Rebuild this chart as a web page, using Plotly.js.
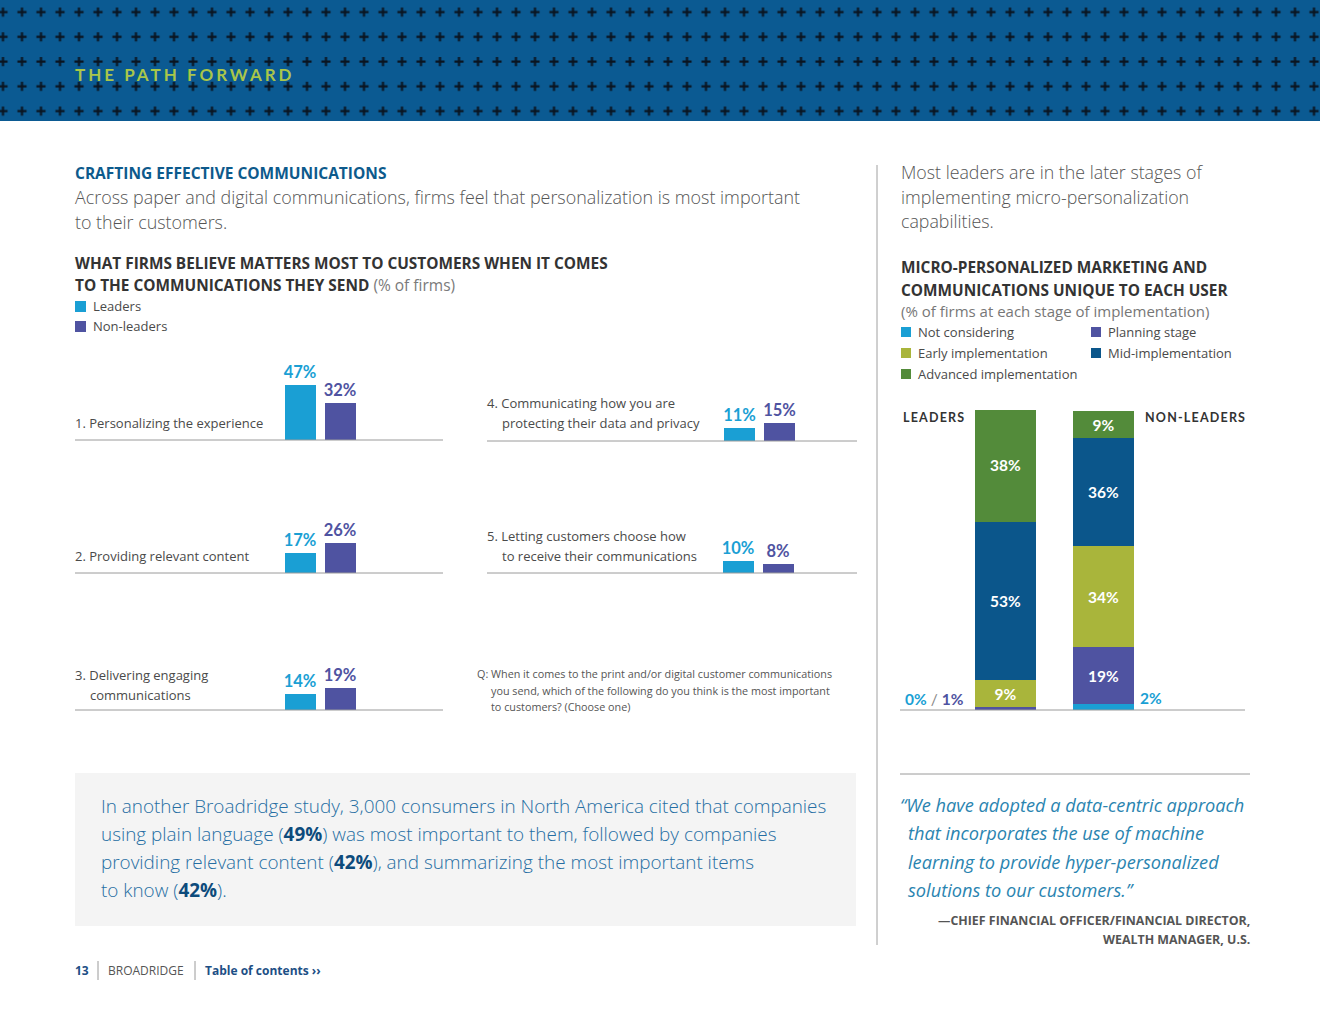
<!DOCTYPE html>
<html><head><meta charset="utf-8">
<script src="https://cdn.plot.ly/plotly-3.0.1.min.js"></script>
<style>html,body{margin:0;padding:0;background:#fff;}#chart{width:1320px;height:1020px;}</style>
</head><body><div id="chart"></div>
<script>
// ---------------- DATA ----------------
const groups = ['Leaders', 'Non-leaders'];
const commLabelLines = [
  ['1. Personalizing the experience'],
  ['2. Providing relevant content'],
  ['3. Delivering engaging', 'communications'],
  ['4. Communicating how you are', 'protecting their data and privacy'],
  ['5. Letting customers choose how', 'to receive their communications']
];
const commLeaders = [47, 17, 14, 11, 10];
const commNonLeaders = [32, 26, 19, 15, 8];

const stages = ['Not considering', 'Planning stage', 'Early implementation', 'Mid-implementation', 'Advanced implementation'];
const stageLeaders = [0, 1, 9, 53, 38];
const stageNonLeaders = [2, 19, 34, 36, 9];

// ---------------- STYLE ----------------
const W = 1320, H = 1020;
const X = p => p / W, Y = p => 1 - p / H;
const FONT = "'Open Sans', 'Noto Sans', sans-serif";
const COND = "'Open Sans', 'Noto Sans', sans-serif";
const NUMF = "Lato, 'Open Sans', sans-serif";
const C = {leaders: '#1a9fd4', non: '#4f53a1', header: '#0b5a92', lime: '#a9c64a', navy: '#0d5a8c'};
const stageColors = ['#1a9fd4', '#4f53a1', '#a9b53b', '#0b568b', '#538b3a'];

const slots = [
  {x0: 280, base: 440, lx: 75, lys: [423], b0: 75, b1: 443},
  {x0: 280, base: 573, lx: 75, lys: [556], b0: 75, b1: 443},
  {x0: 280, base: 710, lx: 75, lys: [675, 695], b0: 75, b1: 443},
  {x0: 719.5, base: 441, lx: 487, lys: [403, 423], b0: 487, b1: 857},
  {x0: 718, base: 573, lx: 487, lys: [536, 556], b0: 487, b1: 857}
];
const PX_PER_PCT = 1.17;

const traces = [];
const layout = {
  width: W, height: H, margin: {l: 0, r: 0, t: 0, b: 0},
  paper_bgcolor: '#fff', plot_bgcolor: 'rgba(0,0,0,0)',
  barmode: 'stack', showlegend: false, hovermode: false,
  font: {family: FONT}
};
const shapes = [];
const A = [];

function txt(t, x, y, o = {}) {
  A.push({text: t, x: X(x), y: Y(y), xref: 'paper', yref: 'paper',
    xanchor: o.anchor || 'left', yanchor: 'middle', showarrow: false,
    borderpad: 0, borderwidth: 0,
    align: o.anchor === 'right' ? 'right' : 'left',
    font: {family: o.family || FONT, size: o.size || 13, color: o.color || '#444',
      weight: o.weight || 400, style: o.style || 'normal'}});
}
function rect(x0, y0, x1, y1, color, layer) {
  shapes.push({type: 'rect', xref: 'paper', yref: 'paper', x0: X(x0), x1: X(x1), y0: Y(y1), y1: Y(y0),
    fillcolor: color, line: {width: 0}, layer: layer || 'above'});
}
function line(x0, y0, x1, y1, color, w) {
  shapes.push({type: 'line', xref: 'paper', yref: 'paper', x0: X(x0), x1: X(x1), y0: Y(y0), y1: Y(y1),
    line: {color: color || '#9a9a9a', width: w || 1}, layer: 'above'});
}

// ---------------- HEADER ----------------
rect(0, 0, 1320, 121, C.header, 'below');
const pat = "<svg xmlns='http://www.w3.org/2000/svg' width='1320' height='121'>" +
  "<defs><pattern id='p' width='19' height='24.75' patternUnits='userSpaceOnUse' x='-6.5' y='-0.4'>" +
  "<path d='M9.5 7.8v9.2M4.9 12.4h9.2' stroke='#0a1420' stroke-width='2.2'/></pattern></defs>" +
  "<rect width='1320' height='121' fill='" + C.header + "'/><rect width='1320' height='121' fill='url(#p)'/></svg>";
layout.images = [{source: 'data:image/svg+xml;charset=utf-8,' + encodeURIComponent(pat),
  xref: 'paper', yref: 'paper', x: 0, y: 1, sizex: 1, sizey: 121 / H, sizing: 'stretch',
  xanchor: 'left', yanchor: 'top', layer: 'above'}];
txt("<span style='letter-spacing:3px'>THE PATH FORWARD</span>", 75, 75, {size: 17, color: C.lime, weight: 700, family: NUMF});

// ---------------- LEFT SMALL BAR CHARTS ----------------
slots.forEach((s, i) => {
  const suf = i === 0 ? '' : String(i + 1);
  traces.push({
    type: 'bar', x: groups, y: [commLeaders[i], commNonLeaders[i]],
    xaxis: 'x' + suf, yaxis: 'y' + suf, width: 0.775,
    marker: {color: [C.leaders, C.non], line: {width: 0}},
    texttemplate: '%{y}%', textposition: 'outside', cliponaxis: false, constraintext: 'none',
    textfont: {family: NUMF, size: 16.5, weight: 700, color: [C.leaders, C.non]},
    hoverinfo: 'skip'
  });
  layout['xaxis' + suf] = {domain: [X(s.x0), X(s.x0 + 80)], range: [-0.5, 1.5], type: 'category',
    categoryarray: groups, visible: false, fixedrange: true, anchor: 'y' + suf};
  layout['yaxis' + suf] = {domain: [Y(s.base), Y(s.base - 80)], range: [0, 80 / PX_PER_PCT],
    visible: false, fixedrange: true, anchor: 'x' + suf};
  line(s.b0, s.base, s.b1, s.base, '#9a9a9a', 1);
  commLabelLines[i].forEach((t, k) => txt(t, s.lx + (k > 0 ? 15 : 0), s.lys[k], {size: 13, color: '#4a4a4a'}));
});

// ---------------- STACKED BAR ----------------
stages.forEach((st, k) => {
  const vals = [stageLeaders[k], stageNonLeaders[k]];
  traces.push({
    type: 'bar', name: st, x: groups, y: vals, xaxis: 'x6', yaxis: 'y6', width: 0.622,
    marker: {color: stageColors[k], line: {width: 0}},
    text: vals.map(v => v >= 5 ? v + '%' : ''), textposition: 'inside', insidetextanchor: 'middle',
    textangle: 0, constraintext: 'none',
    textfont: {family: NUMF, size: 15.5, weight: 700, color: '#ffffff'}, hoverinfo: 'skip'
  });
});
layout.xaxis6 = {domain: [X(956.5), X(1152.5)], range: [-0.5, 1.5], type: 'category', categoryarray: groups,
  visible: false, fixedrange: true, anchor: 'y6'};
layout.yaxis6 = {domain: [Y(710), Y(410)], range: [0, 100.5], visible: false, fixedrange: true, anchor: 'x6'};
line(900, 710, 1245, 710, '#9a9a9a', 1);

// ---------------- SHAPES ----------------
rect(75, 773, 856, 926, '#f4f4f4', 'below');
line(877, 165, 877, 945, '#a0a0a0', 1);
line(900, 774, 1250, 774, '#9a9a9a', 1);
line(98, 961, 98, 980, '#9a9a9a', 1);
line(195, 961, 195, 980, '#9a9a9a', 1);
rect(75, 301, 86, 312, C.leaders);
rect(75, 321, 86, 332, C.non);

// ---------------- LEFT TEXT ----------------
txt('CRAFTING EFFECTIVE COMMUNICATIONS', 75, 173, {size: 15.5, weight: 700, color: C.navy});
txt('Across paper and digital communications, firms feel that personalization is most important', 75, 197, {size: 17.9, weight: 300, color: '#555'});
txt('to their customers.', 75, 222, {size: 17.9, weight: 300, color: '#555'});
txt('WHAT FIRMS BELIEVE MATTERS MOST TO CUSTOMERS WHEN IT COMES', 75, 263, {size: 15.4, weight: 700, color: '#333'});
txt("<b>TO THE COMMUNICATIONS THEY SEND</b> <span style='color:#7a7a7a;font-size:15.5px'>(% of firms)</span>", 75, 285, {size: 15.4, weight: 400, color: '#333'});
txt(groups[0], 93, 306, {size: 13, color: '#4a4a4a'});
txt(groups[1], 93, 326, {size: 13, color: '#4a4a4a'});
txt('Q: When it comes to the print and/or digital customer communications', 477, 673, {size: 10.8, color: '#555'});
txt('you send, which of the following do you think is the most important', 491, 690, {size: 10.8, color: '#555'});
txt('to customers? (Choose one)', 491, 706, {size: 10.8, color: '#555'});

// ---------------- RIGHT TEXT ----------------
txt('Most leaders are in the later stages of', 901, 172, {size: 17.8, weight: 300, color: '#555'});
txt('implementing micro-personalization', 901, 197, {size: 17.8, weight: 300, color: '#555'});
txt('capabilities.', 901, 221, {size: 17.8, weight: 300, color: '#555'});
txt('MICRO-PERSONALIZED MARKETING AND', 901, 268, {size: 15.4, weight: 700, color: '#333'});
txt('COMMUNICATIONS UNIQUE TO EACH USER', 901, 290, {size: 15.4, weight: 700, color: '#333'});
txt('(% of firms at each stage of implementation)', 901, 311, {size: 15, color: '#777'});
stages.forEach((st, k) => {
  const cx = k % 2 === 0 ? 901 : 1091;
  const cy = 332 + Math.floor(k / 2) * 21;
  rect(cx, cy - 5, cx + 10, cy + 5, stageColors[k]);
  txt(st, cx + 17, cy, {size: 13, color: '#4a4a4a'});
});
txt("<span style='letter-spacing:1.2px'>LEADERS</span>", 903, 417, {size: 12.5, weight: 700, color: '#333', family: NUMF});
txt("<span style='letter-spacing:1.2px'>NON-LEADERS</span>", 1145, 417, {size: 12.5, weight: 700, color: '#333', family: NUMF});
txt("<span style='color:" + C.leaders + "'>" + stageLeaders[0] + "%</span><span style='color:#888;font-weight:400'> / </span><span style='color:" + C.non + "'>" + stageLeaders[1] + "%</span>", 905, 699, {size: 15.5, weight: 700, family: NUMF});
txt(stageNonLeaders[0] + '%', 1140, 698, {size: 15.5, weight: 700, color: C.leaders, family: NUMF});

// quote
const QC = '#2a84b0';
txt('\u201CWe have adopted a data-centric approach', 900, 805, {size: 18.2, style: 'italic', color: QC, family: COND});
txt('that incorporates the use of machine', 908, 833, {size: 18.2, style: 'italic', color: QC, family: COND});
txt('learning to provide hyper-personalized', 908, 862, {size: 18.2, style: 'italic', color: QC, family: COND});
txt('solutions to our customers.\u201D', 908, 890, {size: 18.2, style: 'italic', color: QC, family: COND});
txt('\u2014CHIEF FINANCIAL OFFICER/FINANCIAL DIRECTOR,', 1250, 920, {size: 12.4, weight: 700, color: '#555', anchor: 'right', family: COND});
txt('WEALTH MANAGER, U.S.', 1250, 939, {size: 12.4, weight: 700, color: '#555', anchor: 'right', family: COND});

// grey box text
const BC = '#266ea3', BB = '#0d4b7c';
const bs = v => "<span style='color:" + BB + ";font-weight:700'>" + v + "</span>";
const boxOpt = {size: 18.9, weight: 300, color: BC, family: COND};
txt('In another Broadridge study, 3,000 consumers in North America cited that companies', 101, 806, boxOpt);
txt('using plain language (' + bs('49%') + ') was most important to them, followed by companies', 101, 834, boxOpt);
txt('providing relevant content (' + bs('42%') + '), and summarizing the most important items', 101, 862, boxOpt);
txt('to know (' + bs('42%') + ').', 101, 890, boxOpt);

// footer
txt('13', 75, 970, {size: 12, weight: 700, color: '#1d4f85', family: COND});
txt('BROADRIDGE', 108, 970, {size: 12, color: '#555', family: COND});
txt('Table of contents \u203A\u203A', 205, 970, {size: 12, weight: 700, color: '#1d4f85', family: COND});

layout.shapes = shapes;
layout.annotations = A;
Plotly.newPlot('chart', traces, layout, {staticPlot: true, displayModeBar: false});
</script></body></html>
